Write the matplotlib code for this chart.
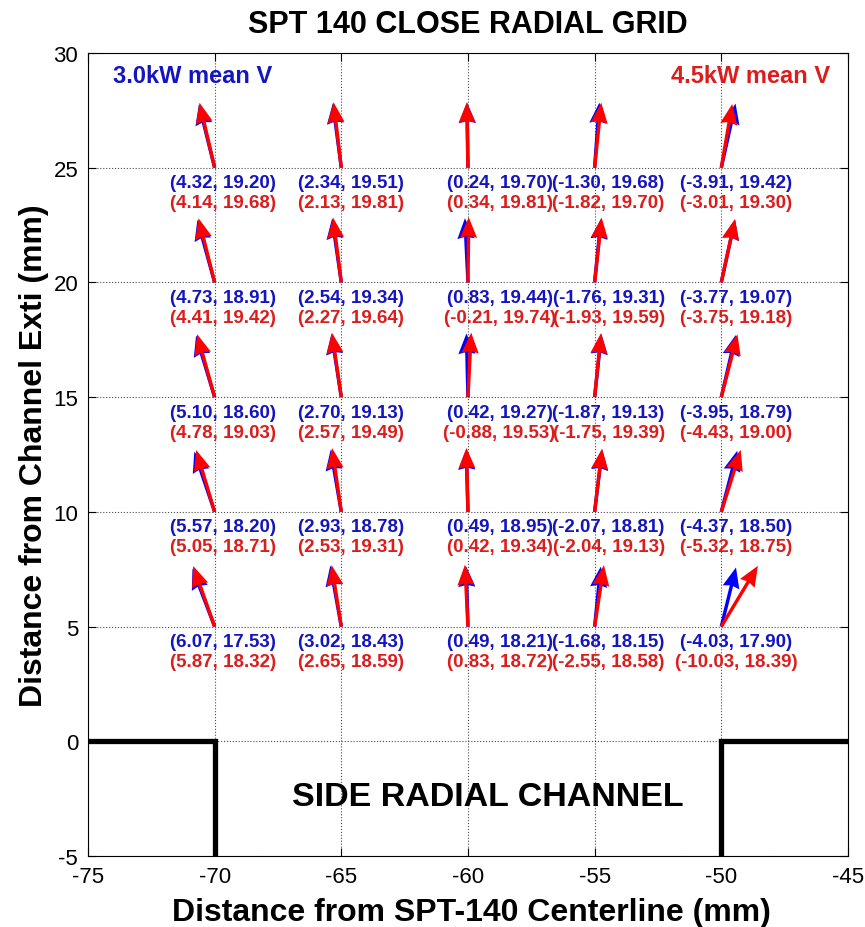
import numpy as np
import matplotlib
matplotlib.use("Agg")
import matplotlib.pyplot as plt

plt.rcParams['font.family'] = ['Liberation Sans', 'DejaVu Sans']
plt.rcParams['axes.unicode_minus'] = False

# ─────────────────────────── DATA ─────────────────────────────────────────────
x_pos = [-70, -65, -60, -55, -50]          # probe columns, mm
y_pos = [25, 20, 15, 10, 5]                # probe rows, mm

# 3.0 kW mean velocity (vx, vy), rows follow y_pos, columns follow x_pos
vx_30 = [[4.32, 2.34, 0.24, -1.30, -3.91],
         [4.73, 2.54, 0.83, -1.76, -3.77],
         [5.10, 2.70, 0.42, -1.87, -3.95],
         [5.57, 2.93, 0.49, -2.07, -4.37],
         [6.07, 3.02, 0.49, -1.68, -4.03]]
vy_30 = [[19.20, 19.51, 19.70, 19.68, 19.42],
         [18.91, 19.34, 19.44, 19.31, 19.07],
         [18.60, 19.13, 19.27, 19.13, 18.79],
         [18.20, 18.78, 18.95, 18.81, 18.50],
         [17.53, 18.43, 18.21, 18.15, 17.90]]

# 4.5 kW mean velocity (vx, vy)
vx_45 = [[4.14, 2.13, 0.34, -1.82, -3.01],
         [4.41, 2.27, -0.21, -1.93, -3.75],
         [4.78, 2.57, -0.88, -1.75, -4.43],
         [5.05, 2.53, 0.42, -2.04, -5.32],
         [5.87, 2.65, 0.83, -2.55, -10.03]]
vy_45 = [[19.68, 19.81, 19.81, 19.70, 19.30],
         [19.42, 19.64, 19.74, 19.59, 19.18],
         [19.03, 19.49, 19.53, 19.39, 19.00],
         [18.71, 19.31, 19.34, 19.13, 18.75],
         [18.32, 18.59, 18.72, 18.58, 18.39]]

# channel walls
wall_left_x = [-75, -70, -70]
wall_left_y = [0, 0, -5]
wall_right_x = [-50, -50, -45]
wall_right_y = [-5, 0, 0]
# ──────────────────────────────────────────────────────────────────────────────

BLUE = '#0000ff'
RED = '#ff0000'
BLUE_TXT = '#1414c0'
RED_TXT = '#dd1c1c'
ARROW_SCALE = 0.144            # data units per velocity unit
label_shift = [0.33, 0.4, 1.25, 0.55, 0.58]   # label centre offset per column

fig = plt.figure(figsize=(8.65, 9.28), dpi=100)
ax = fig.add_axes([0.1017, 0.0765, 0.8786, 0.8653])

X, Y = np.meshgrid(x_pos, y_pos)
qkw = dict(angles='xy', scale_units='xy', scale=1.0 / ARROW_SCALE,
           width=0.0045, headwidth=5, headlength=6, headaxislength=5.5, zorder=3)
ax.quiver(X, Y, -np.array(vx_30), np.array(vy_30), color=BLUE, **qkw)
ax.quiver(X, Y, -np.array(vx_45), np.array(vy_45), color=RED, **qkw)

for i, yy in enumerate(y_pos):
    for j, xx in enumerate(x_pos):
        ax.text(xx + label_shift[j], yy - 0.65, f"({vx_30[i][j]:.2f}, {vy_30[i][j]:.2f})",
                color=BLUE_TXT, fontsize=13.5, fontweight='bold', ha='center', va='center')
        ax.text(xx + label_shift[j], yy - 1.52, f"({vx_45[i][j]:.2f}, {vy_45[i][j]:.2f})",
                color=RED_TXT, fontsize=13.5, fontweight='bold', ha='center', va='center')

ax.plot(wall_left_x, wall_left_y, color='k', lw=3.8, solid_joinstyle='miter', zorder=4)
ax.plot(wall_right_x, wall_right_y, color='k', lw=3.8, solid_joinstyle='miter', zorder=4)

ax.text(-59.2, -2.4, "SIDE RADIAL CHANNEL", fontsize=24.5, fontweight='bold',
        ha='center', va='center')
ax.text(-74.0, 29.0, "3.0kW mean V", color=BLUE_TXT, fontsize=17, fontweight='bold',
        ha='left', va='center')
ax.text(-45.7, 29.0, "4.5kW mean V", color=RED_TXT, fontsize=17, fontweight='bold',
        ha='right', va='center')

ax.set_xlim(-75, -45)
ax.set_ylim(-5, 30)
ax.set_xticks(np.arange(-75, -44, 5))
ax.set_yticks(np.arange(-5, 31, 5))
ax.grid(True, color='k', ls=':', lw=0.8, alpha=0.7)
ax.tick_params(direction='in', length=6, width=0.8, top=True, right=True,
               labelsize=16, pad=7)
for s in ax.spines.values():
    s.set_linewidth(0.8)

ax.set_ylabel("Distance from Channel Exti (mm)", fontsize=23, fontweight='bold', labelpad=3)
fig.text(0.5445, 0.0075, "Distance from SPT-140 Centerline (mm)", fontsize=23,
         fontweight='bold', ha='center', va='baseline')
fig.text(0.5405, 1 - 33 / 928, "SPT 140 CLOSE RADIAL GRID", fontsize=22,
         fontweight='bold', ha='center', va='baseline')

fig.savefig("out.png", dpi=100)
